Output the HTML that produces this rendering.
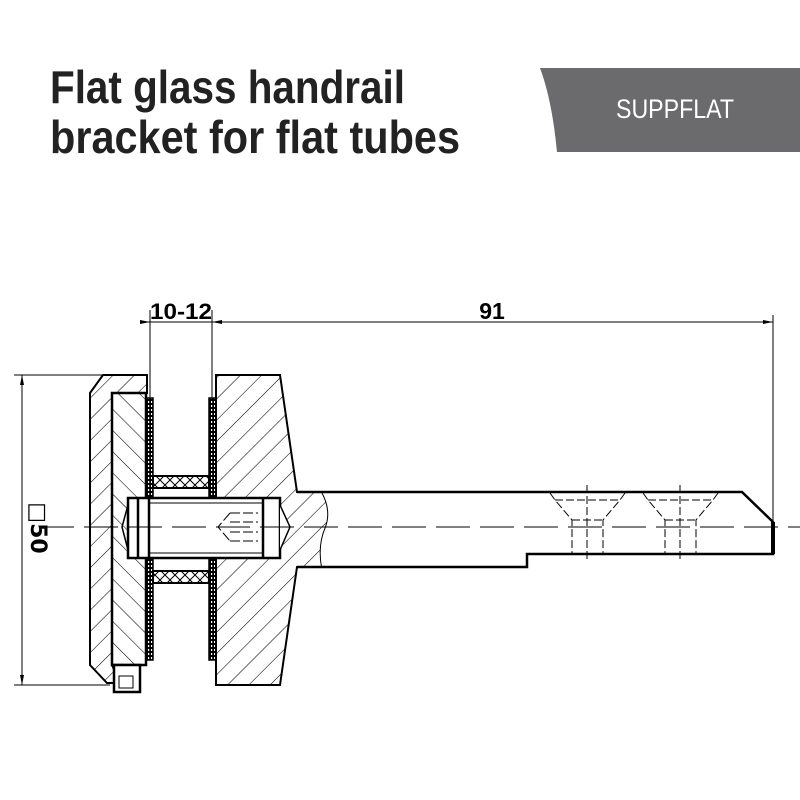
<!DOCTYPE html>
<html><head><meta charset="utf-8"><style>html,body{margin:0;padding:0;background:#fff}svg{display:block}</style></head>
<body>
<svg width="800" height="800" viewBox="0 0 800 800" xmlns="http://www.w3.org/2000/svg">
<defs>
<pattern id="h1" width="15" height="15" patternUnits="userSpaceOnUse" patternTransform="rotate(45)"><line x1="0" y1="0" x2="0" y2="15" stroke="#000" stroke-width="1.1"/></pattern>
<pattern id="h2" width="15" height="15" patternUnits="userSpaceOnUse" patternTransform="rotate(-45)"><line x1="0" y1="0" x2="0" y2="15" stroke="#000" stroke-width="1.1"/></pattern>
<pattern id="hx" width="10" height="10" patternUnits="userSpaceOnUse"><path d="M0 0L10 10M10 0L0 10" stroke="#000" stroke-width="1"/></pattern>
<pattern id="dots" width="3" height="4" patternUnits="userSpaceOnUse"><rect width="3" height="4" fill="#000"/><rect x="1" y="1" width="1.2" height="2" fill="#fff"/></pattern>
</defs>
<!-- title -->
<text x="50" y="103" font-family="'Liberation Sans Narrow','Liberation Sans',sans-serif" font-weight="bold" font-size="46" textLength="355" lengthAdjust="spacingAndGlyphs" fill="#222">Flat glass handrail</text>
<text x="50" y="153" font-family="'Liberation Sans Narrow','Liberation Sans',sans-serif" font-weight="bold" font-size="46" textLength="410" lengthAdjust="spacingAndGlyphs" fill="#222">bracket for flat tubes</text>
<path d="M540 68 L800 68 L800 152 L557 152 Q552 100 540 68 Z" fill="#6b6b6e"/>
<text x="675" y="118" text-anchor="middle" font-family="'Liberation Sans Narrow','Liberation Sans',sans-serif" font-size="27" textLength="118" lengthAdjust="spacingAndGlyphs" fill="#fff">SUPPFLAT</text>

<g stroke="#000" fill="none">
<line x1="150" y1="310" x2="150" y2="398" stroke-width="1"/>
<line x1="212" y1="310" x2="212" y2="398" stroke-width="1"/>
<line x1="773" y1="315" x2="773" y2="522" stroke-width="1"/>
<line x1="140" y1="322" x2="222" y2="322" stroke-width="1"/>
<line x1="212" y1="322" x2="773" y2="322" stroke-width="1"/>
<path d="M150 322 l-10 -2 v4z M212 322 l10 -2 v4z M773 322 l-10 -2 v4z" fill="#000" stroke="none"/>
<line x1="14" y1="375" x2="110" y2="375" stroke-width="1"/>
<line x1="14" y1="685" x2="110" y2="685" stroke-width="1"/>
<line x1="22" y1="375" x2="22" y2="685" stroke-width="1"/>
<path d="M22 375 l-2 10 h4z M22 685 l-2 -10 h4z" fill="#000" stroke="none"/>

<path d="M103 375 L147 375 L147 393 L112 393 L112 665 L120 683 L107 683 L90 665 L90 393 Z" fill="url(#h1)" stroke-width="2"/>
<rect x="112" y="393" width="34" height="272" fill="url(#h2)" stroke-width="2.5"/>
<rect x="114" y="665" width="26" height="27" fill="#fff" stroke-width="2.5"/>
<rect x="119" y="676" width="14" height="12" stroke-width="1"/>
<rect x="146" y="398" width="7" height="262" fill="url(#dots)" stroke-width="1.5"/>
<rect x="209" y="398" width="7" height="262" fill="url(#dots)" stroke-width="1.5"/>
<rect x="153" y="476" width="56" height="12" fill="url(#hx)" stroke-width="2"/>
<rect x="153" y="571" width="56" height="12" fill="url(#hx)" stroke-width="2"/>
<path d="M216 375 L280 375 L297 492 L322 492 Q332 510 326 527 Q318 545 322 567 L297 567 L280 685 L216 685 Z" fill="url(#h1)" stroke-width="2"/>
<path d="M322 492 L742 492 L773 522 L773 554 L527 554 L527 567 L322 567 Q318 545 326 527 Q332 510 322 492 Z" fill="#fff" stroke="none"/>
<path d="M297 492 L742 492 L773 522 L773 554 L527 554 L527 567 L297 567" stroke-width="2.5"/>
<line x1="773" y1="522" x2="773" y2="554" stroke-width="4"/>
<g stroke-width="1" stroke-dasharray="8 3">
<path d="M550 493 L555 500 L572 520 L572 554 M625 493 L620 500 L603 520 L603 554 M555 500 H620 M572 520 H603"/>
<path d="M643 493 L648 500 L665 520 L665 554 M718 493 L713 500 L696 520 L696 554 M648 500 H713 M665 520 H696"/>
<path d="M587 485 V560 M680 485 V560"/>
</g>
<rect x="128" y="498" width="152" height="60" fill="#fff" stroke-width="2.5"/>
<path d="M128 505 L122 527 L128 550" stroke-width="1.5"/>
<path d="M280 505 L290 527 L280 550" fill="#fff" stroke-width="1.5"/>
<line x1="138" y1="498" x2="138" y2="558" stroke-width="2.5"/>
<line x1="149" y1="498" x2="149" y2="558" stroke-width="2.5"/>
<line x1="263" y1="498" x2="263" y2="558" stroke-width="2.5"/>
<line x1="149" y1="503" x2="263" y2="503" stroke-width="1"/>
<line x1="149" y1="553" x2="263" y2="553" stroke-width="1"/>
<path d="M230 513 L218 527 L230 541 M230 513 H258 M230 541 H258 M230 522 H258 M230 532 H258" stroke-width="1" stroke-dasharray="10 3"/>
<line x1="40" y1="527" x2="800" y2="527" stroke-width="1" stroke-dasharray="34 10"/>
</g>
<text x="492" y="319" text-anchor="middle" font-family="'Liberation Sans Narrow','Liberation Sans',sans-serif" font-weight="bold" font-size="23">91</text>
<text x="181" y="319" text-anchor="middle" font-family="'Liberation Sans Narrow','Liberation Sans',sans-serif" font-weight="bold" font-size="22" textLength="62" lengthAdjust="spacingAndGlyphs">10-12</text>
<text transform="translate(31 528) rotate(90)" text-anchor="middle" font-family="'DejaVu Sans','Liberation Sans',sans-serif" font-weight="bold" font-size="22">□50</text>
</svg>
</body></html>
